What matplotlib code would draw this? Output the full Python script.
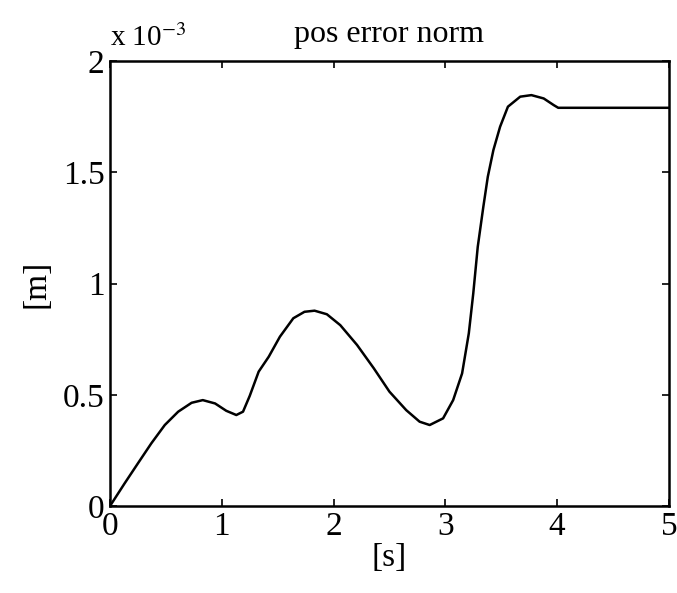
import numpy as np
import matplotlib
matplotlib.use("Agg")
import matplotlib.pyplot as plt

# pos error norm (y in units of 1e-3 m)
t_s = [0, 0.131, 0.25, 0.37, 0.49, 0.61, 0.73, 0.83, 0.94, 1.04, 1.13,
       1.19, 1.25, 1.33, 1.42, 1.52, 1.64, 1.74, 1.83, 1.94, 2.06, 2.21,
       2.36, 2.50, 2.65, 2.77, 2.86, 2.98, 3.07, 3.15, 3.21, 3.25, 3.29,
       3.34, 3.38, 3.43, 3.49, 3.56, 3.67, 3.77, 3.88, 3.97, 4.01, 5.0]
err_mm = [0, 0.102, 0.192, 0.282, 0.364, 0.424, 0.464, 0.476, 0.461, 0.428,
          0.409, 0.424, 0.495, 0.604, 0.671, 0.761, 0.844, 0.873, 0.878,
          0.862, 0.813, 0.724, 0.619, 0.514, 0.431, 0.379, 0.364, 0.394,
          0.476, 0.596, 0.776, 0.956, 1.165, 1.345, 1.480, 1.600, 1.705,
          1.795, 1.840, 1.847, 1.832, 1.802, 1.790, 1.790]
x_ticks = [0, 1, 2, 3, 4, 5]
y_ticks = [0, 0.5, 1, 1.5, 2]
y_tick_labels = ["0", "0.5", "1", "1.5", "2"]

plt.rcParams["font.family"] = ["Liberation Serif", "DejaVu Serif"]
plt.rcParams["mathtext.fontset"] = "stix"

fig = plt.figure(figsize=(6.77, 5.93), dpi=100)
ax = fig.add_axes([0.1625, 0.1467, 0.8255, 0.7503])

ax.plot(t_s, err_mm, color="black", linewidth=1.8, solid_joinstyle="round")

ax.set_xlim(0, 5)
ax.set_ylim(0, 2)
ax.set_xticks(x_ticks)
ax.set_yticks(y_ticks)
ax.set_yticklabels(y_tick_labels)
ax.tick_params(direction="in", length=5, width=1.2, top=True, right=True,
               labelsize=24, pad=4)
for sp in ax.spines.values():
    sp.set_linewidth(1.8)

ax.set_xlabel("[s]", fontsize=24, labelpad=0)
ax.set_ylabel("[m]", fontsize=24, labelpad=8)
ax.set_title("pos error norm", fontsize=23, pad=14)
ax.text(0.0, 1.02, "x 10$^{-3}$", transform=ax.transAxes, fontsize=21,
        ha="left", va="bottom")

fig.savefig("out.png", dpi=100)
